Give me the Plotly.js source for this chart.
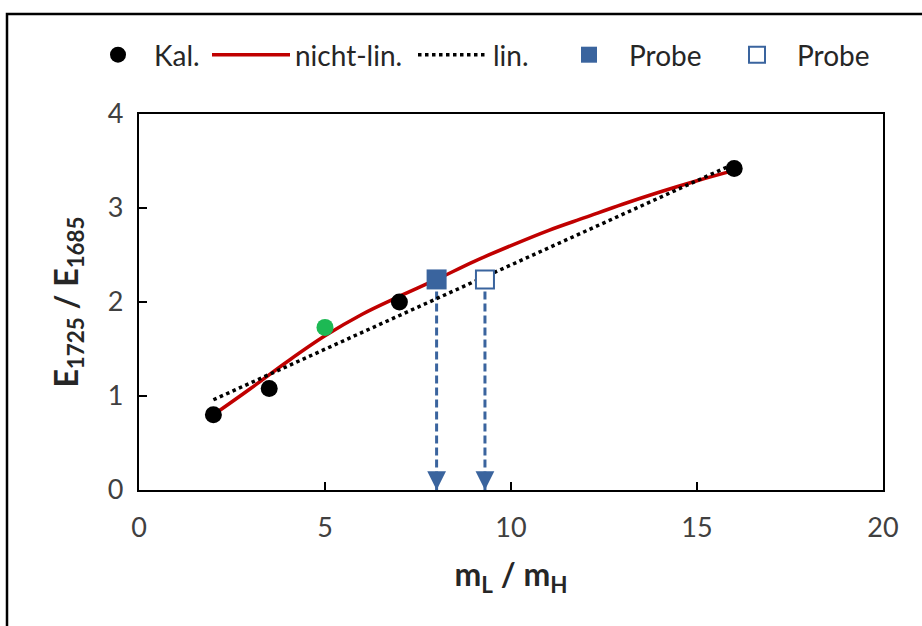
<!DOCTYPE html>
<html>
<head>
<meta charset="utf-8">
<script src="https://cdn.plot.ly/plotly-3.0.1.min.js"></script>
<style>html,body{margin:0;padding:0;background:#fff;}#chart{width:922px;height:626px;}</style>
</head>
<body>
<div id="chart"></div>
<script>
// Calibration points (Kal.)
const kalX = [2, 3.5, 7, 16];
const kalY = [0.80, 1.08, 2.00, 3.42];
// Extra (green) point
const greenX = [5];
const greenY = [1.73];
// Non-linear fit curve
const nlX = [2, 3, 4, 5, 6, 7, 8, 9, 10, 11, 12, 13, 14, 15, 16];
const nlY = [0.80, 1.08, 1.37, 1.64, 1.87, 2.06, 2.24, 2.43, 2.60, 2.76, 2.90, 3.04, 3.17, 3.29, 3.40];
// Linear fit
const linX = [2, 16];
const linY = [0.96, 3.47];
// Samples (Probe)
const probeNlX = [8];
const probeNlY = [2.24];
const probeLinX = [9.3];
const probeLinY = [2.24];
// Axis ticks
const xTicks = [0, 5, 10, 15, 20];
const yTicks = [0, 1, 2, 3, 4];
// Legend labels
const legendNames = ['Kal.', 'nicht-lin.', 'lin.', 'Probe', 'Probe'];

const blue = '#3a649e';
const font = 'Lato, "Open Sans", sans-serif';

const L = 139, R = 883, T = 114, B = 490;
const W = R - L, H = B - T;
const px2x = p => (p - L) / W;
const px2y = p => (B - p) / H;

const traces = [
  {x: [probeNlX[0], probeNlX[0]], y: [probeNlY[0], 0], mode: 'lines', showlegend: false, hoverinfo: 'skip',
   line: {color: blue, width: 3, dash: '8px,4px'}},
  {x: [probeLinX[0], probeLinX[0]], y: [probeLinY[0], 0], mode: 'lines', showlegend: false, hoverinfo: 'skip',
   line: {color: blue, width: 3, dash: '8px,4px'}},
  {x: nlX, y: nlY, mode: 'lines', name: legendNames[1], legend: 'legend2',
   line: {color: '#c00000', width: 3.5, shape: 'spline'}},
  {x: linX, y: linY, mode: 'lines', name: legendNames[2], legend: 'legend3',
   line: {color: '#000', width: 3.5, dash: 'dot'}},
  {x: kalX, y: kalY, mode: 'markers', name: legendNames[0], legend: 'legend',
   marker: {color: '#000', size: 17}},
  {x: greenX, y: greenY, mode: 'markers', showlegend: false,
   marker: {color: '#1db954', size: 17}},
  {x: probeNlX, y: probeNlY, mode: 'markers', name: legendNames[3], legend: 'legend4',
   marker: {symbol: 'square', color: blue, size: 20}},
  {x: probeLinX, y: probeLinY, mode: 'markers', name: legendNames[4], legend: 'legend5',
   marker: {symbol: 'square', color: '#fff', size: 18, line: {color: blue, width: 2}}}
];

const legBase = {orientation: 'h', y: px2y(55), xanchor: 'left', yanchor: 'middle',
                 font: {size: 28, color: '#262626', family: font}, bgcolor: 'rgba(0,0,0,0)'};
const leg = (px, extra) => Object.assign({}, legBase, {x: px2x(px)}, extra || {});

const layout = {
  width: 922, height: 626,
  margin: {l: L, r: 922 - R, t: T, b: 626 - B},
  paper_bgcolor: '#fff', plot_bgcolor: '#fff',
  font: {family: font, color: '#404040', size: 27},
  showlegend: true,
  legend: leg(82, {itemwidth: 62}),
  legend2: leg(207, {itemwidth: 78}),
  legend3: leg(413, {itemwidth: 70}),
  legend4: leg(549, {itemwidth: 70}),
  legend5: leg(717, {itemwidth: 70}),
  xaxis: {range: [0, 20], tickvals: xTicks, ticktext: xTicks.map(String), ticks: 'inside', ticklen: 8, tickwidth: 1.5,
          tickcolor: '#000', showline: true, linecolor: '#000', linewidth: 2.2, mirror: true, showgrid: false, zeroline: false,
          tickfont: {size: 27, color: '#404040'}, ticklabelstandoff: 12,
          title: {text: '<b>m<sub>L</sub> / m<sub>H</sub></b>', font: {size: 32, color: '#262626'}, standoff: 22}},
  yaxis: {range: [0, 4], tickvals: yTicks, ticktext: yTicks.map(String), ticks: 'inside', ticklen: 8, tickwidth: 1.5,
          tickcolor: '#000', showline: true, linecolor: '#000', linewidth: 2.2, mirror: true, showgrid: false, zeroline: false,
          tickfont: {size: 27, color: '#404040'}, ticklabelstandoff: 8,
          title: {text: '<b>E<sub>1725</sub> / E<sub>1685</sub></b>', font: {size: 32, color: '#262626'}, standoff: 20}},
  annotations: [probeNlX[0], probeLinX[0]].map(x => ({
    x: x, y: 0, xref: 'x', yref: 'y', text: '', showarrow: true, ax: 0, ay: -16,
    arrowhead: 2, arrowsize: 1.25, arrowwidth: 3, arrowcolor: blue
  })),
  shapes: [{type: 'rect', xref: 'paper', yref: 'paper',
            x0: px2x(7), x1: px2x(940), y0: px2y(660), y1: px2y(14),
            line: {color: '#000', width: 2.5}, fillcolor: 'rgba(0,0,0,0)', layer: 'below'}]
};

Plotly.newPlot('chart', traces, layout, {displayModeBar: false, staticPlot: true});
</script>
</body>
</html>
